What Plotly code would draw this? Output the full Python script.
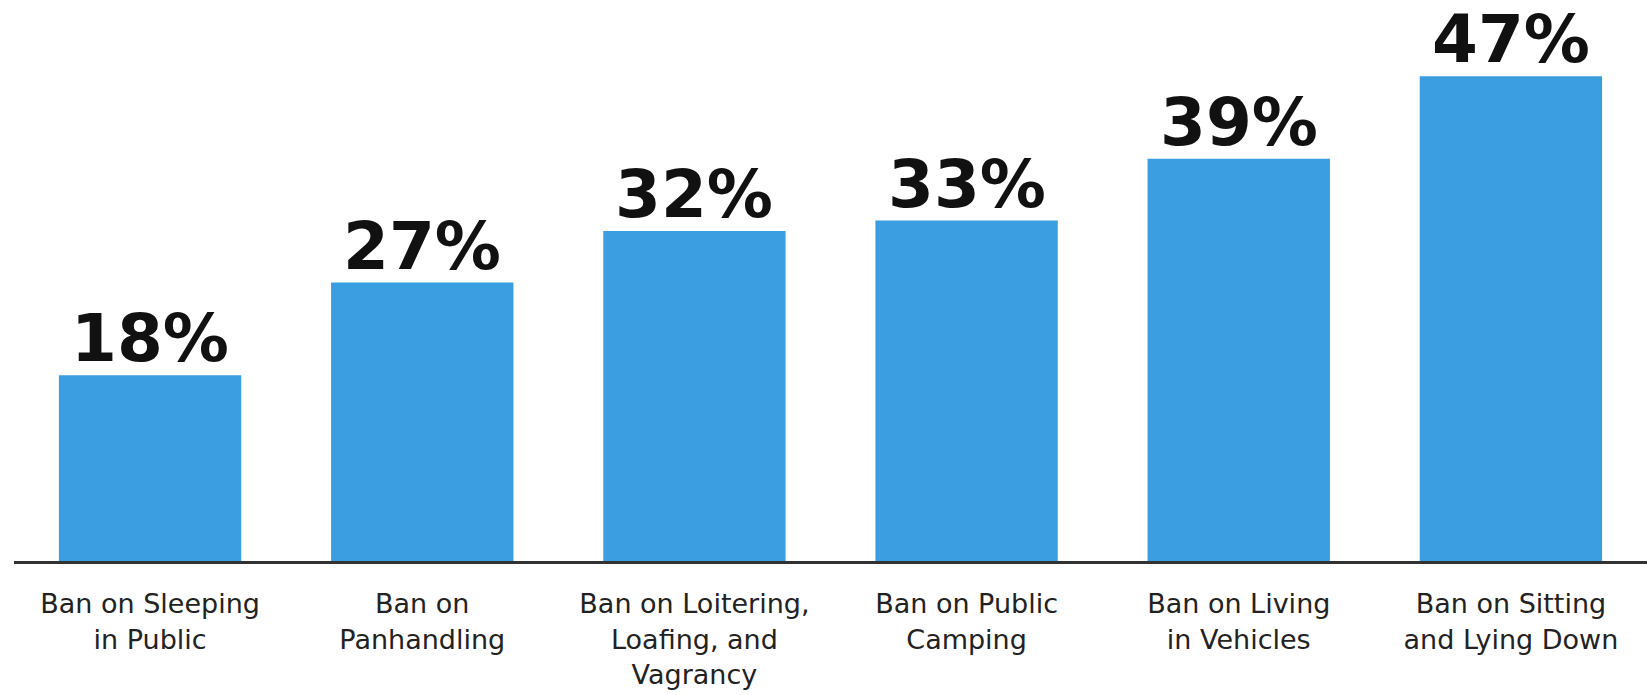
import plotly.graph_objects as go

categories = [
    "Ban on Sleeping<br>in Public",
    "Ban on<br>Panhandling",
    "Ban on Loitering,<br>Loafing, and<br>Vagrancy",
    "Ban on Public<br>Camping",
    "Ban on Living<br>in Vehicles",
    "Ban on Sitting<br>and Lying Down",
]
values = [18, 27, 32, 33, 39, 47]
value_labels = [f"{v}%" for v in values]

BAR_COLOR = "#3A9EE0"

fig = go.Figure(
    go.Bar(
        x=list(range(len(categories))),
        y=values,
        marker=dict(color=BAR_COLOR, line=dict(width=0)),
        width=0.67,
        hoverinfo="skip",
    )
)

# percentage labels sitting just above each bar
for i, (v, lab) in enumerate(zip(values, value_labels)):
    fig.add_annotation(
        x=i, y=v, text=f"<b>{lab}</b>", showarrow=False,
        xanchor="center", yanchor="bottom", yshift=-4,
        font=dict(family="DejaVu Sans", size=66, color="#111111"),
    )

fig.update_layout(
    width=1647, height=695,
    margin=dict(l=14, r=0, t=4, b=134),
    paper_bgcolor="white", plot_bgcolor="white",
    showlegend=False,
    bargap=0.33,
)
fig.update_xaxes(
    range=[-0.5, 5.5],
    tickmode="array",
    tickvals=list(range(len(categories))),
    ticktext=categories,
    ticks="",
    showline=True, linecolor="#333333", linewidth=3,
    showgrid=False, zeroline=False,
    tickfont=dict(family="DejaVu Sans", size=27, color="#222222"),
    ticklabelstandoff=17,
)
fig.update_yaxes(
    range=[0, 54], visible=False, showgrid=False, zeroline=False,
)

fig.write_html("out.html")
